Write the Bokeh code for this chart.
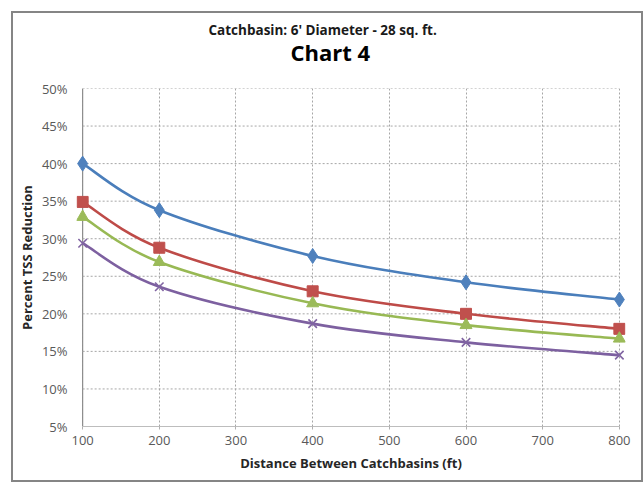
from bokeh.plotting import figure
from bokeh.models import (FixedTicker, PrintfTickFormatter, Title, Span,
                          Range1d, ColumnDataSource)
from bokeh.embed import file_html
from bokeh.resources import INLINE

# ---- data ----
distance = [100, 200, 400, 600, 800]
series_a = [40.0, 33.8, 27.7, 24.2, 21.9]   # blue, diamonds
series_b = [34.9, 28.8, 23.0, 20.0, 18.0]   # red, squares
series_c = [32.9, 26.9, 21.4, 18.5, 16.7]   # green, triangles
series_d = [29.4, 23.6, 18.7, 16.2, 14.5]   # purple, x
x_ticks = [100, 200, 300, 400, 500, 600, 700, 800]
y_ticks = [5, 10, 15, 20, 25, 30, 35, 40, 45, 50]

title_text = "Catchbasin: 6'  Diameter - 28 sq. ft."
chart_text = "Chart 4"
x_label = "Distance Between Catchbasins (ft)"
y_label = "Percent TSS Reduction"

FONT = "Open Sans"
PAD = 8  # small x padding (data units) so edge markers are not clipped

x_lo, x_hi = x_ticks[0], x_ticks[-1]
y_lo, y_hi = y_ticks[0], y_ticks[-1]

p = figure(width=632, height=471, output_backend="svg", toolbar_location=None,
           x_range=Range1d(x_lo - PAD, x_hi + PAD), y_range=Range1d(y_lo, y_hi),
           min_border_left=63, min_border_right=20, min_border_top=75,
           min_border_bottom=58, background_fill_color="white",
           border_fill_color="white", outline_line_color=None,
           margin=(11, 0, 0, 11))
p.styles = {"border": "2px solid #858585"}

# titles: subtitle outermost, then "Chart 4", then an empty spacer
p.title.text = title_text
p.title.text_font = FONT
p.title.text_font_size = "13.5px"
p.title.text_font_style = "bold"
p.title.text_color = "#1a1a1a"
p.title.align = "left"
p.title.offset = 132
p.title.standoff = -8
spacer = Title(text=" ", text_font=FONT, text_font_size="1px",
               text_color="white", standoff=19)
p.add_layout(spacer, "above")
main = Title(text=chart_text, text_font=FONT, text_font_size="22px",
             text_font_style="bold", text_color="#000000", align="left",
             offset=214, standoff=0)
p.add_layout(main, "above")

# axes
for ax in (p.xaxis[0], p.yaxis[0]):
    ax.major_label_text_font = FONT
    ax.major_label_text_font_size = "13px"
    ax.major_label_text_color = "#595959"
    ax.axis_label_text_font = FONT
    ax.axis_label_text_font_size = "13px"
    ax.axis_label_text_font_style = "bold"
    ax.axis_label_text_color = "#262626"
    ax.minor_tick_line_color = None
    ax.major_tick_in = 0

p.xaxis.ticker = FixedTicker(ticks=x_ticks)
p.yaxis.ticker = FixedTicker(ticks=y_ticks)
p.yaxis.formatter = PrintfTickFormatter(format="%d%%")
p.xaxis.axis_label = x_label
p.yaxis.axis_label = y_label
p.xaxis.bounds = (x_lo, x_hi)
p.xaxis.axis_line_color = "#bdbdbd"
p.xaxis.major_tick_out = 3
p.xaxis.major_tick_line_color = "#b0b0b0"
p.yaxis.axis_line_color = None
p.yaxis.major_tick_line_color = None
p.yaxis.major_tick_out = 0
p.xaxis.major_label_standoff = 6
p.yaxis.major_label_standoff = 9
p.xaxis.axis_label_standoff = 6
p.yaxis.axis_label_standoff = 3

# grid: vertical lines from the grid, horizontal lines limited to the x span
p.xgrid.ticker = FixedTicker(ticks=x_ticks)
p.xgrid.grid_line_color = "#a6a6a6"
p.xgrid.grid_line_dash = "2 2"
p.ygrid.grid_line_color = None
p.segment(x0=[x_lo] * len(y_ticks), x1=[x_hi] * len(y_ticks),
          y0=y_ticks, y1=y_ticks, line_color="#a6a6a6", line_dash="2 2",
          line_width=1)

# value axis line at x = 100
p.add_layout(Span(location=x_lo, dimension="height", line_color="#8c8c8c",
                  line_width=1.2, level="underlay"))


def smooth_segments(xs, ys):
    """Catmull-Rom style Bezier control points (Excel 'smoothed line')."""
    n = len(xs)
    x0, y0, x1, y1, cx0, cy0, cx1, cy1 = [], [], [], [], [], [], [], []
    for i in range(n - 1):
        im1 = max(i - 1, 0)
        ip2 = min(i + 2, n - 1)
        x0.append(xs[i]); y0.append(ys[i])
        x1.append(xs[i + 1]); y1.append(ys[i + 1])
        cx0.append(xs[i] + (xs[i + 1] - xs[im1]) / 6.0)
        cy0.append(ys[i] + (ys[i + 1] - ys[im1]) / 6.0)
        cx1.append(xs[i + 1] - (xs[ip2] - xs[i]) / 6.0)
        cy1.append(ys[i + 1] - (ys[ip2] - ys[i]) / 6.0)
    return ColumnDataSource(dict(x0=x0, y0=y0, x1=x1, y1=y1,
                                 cx0=cx0, cy0=cy0, cx1=cx1, cy1=cy1))


styles = [
    (series_a, "#4a7ebb", "#4f81bd", "diamond", 15),
    (series_b, "#be4b48", "#c0504d", "square", 11),
    (series_c, "#98b954", "#9bbb59", "triangle", 12),
    (series_d, "#7d60a0", "#8064a2", "x", 12),
]

for ys, lc, mc, marker, size in styles:
    src = smooth_segments(distance, ys)
    p.bezier(x0="x0", y0="y0", x1="x1", y1="y1", cx0="cx0", cy0="cy0",
             cx1="cx1", cy1="cy1", source=src, line_color=lc, line_width=2.6)

for ys, lc, mc, marker, size in styles:
    if marker == "x":
        p.scatter(distance, ys, marker="x", size=size, line_color=mc,
                  line_width=1.6)
    else:
        p.scatter(distance, ys, marker=marker, size=size, fill_color=mc,
                  line_color=mc, line_width=1)

open("out.html", "w").write(file_html(p, INLINE))
